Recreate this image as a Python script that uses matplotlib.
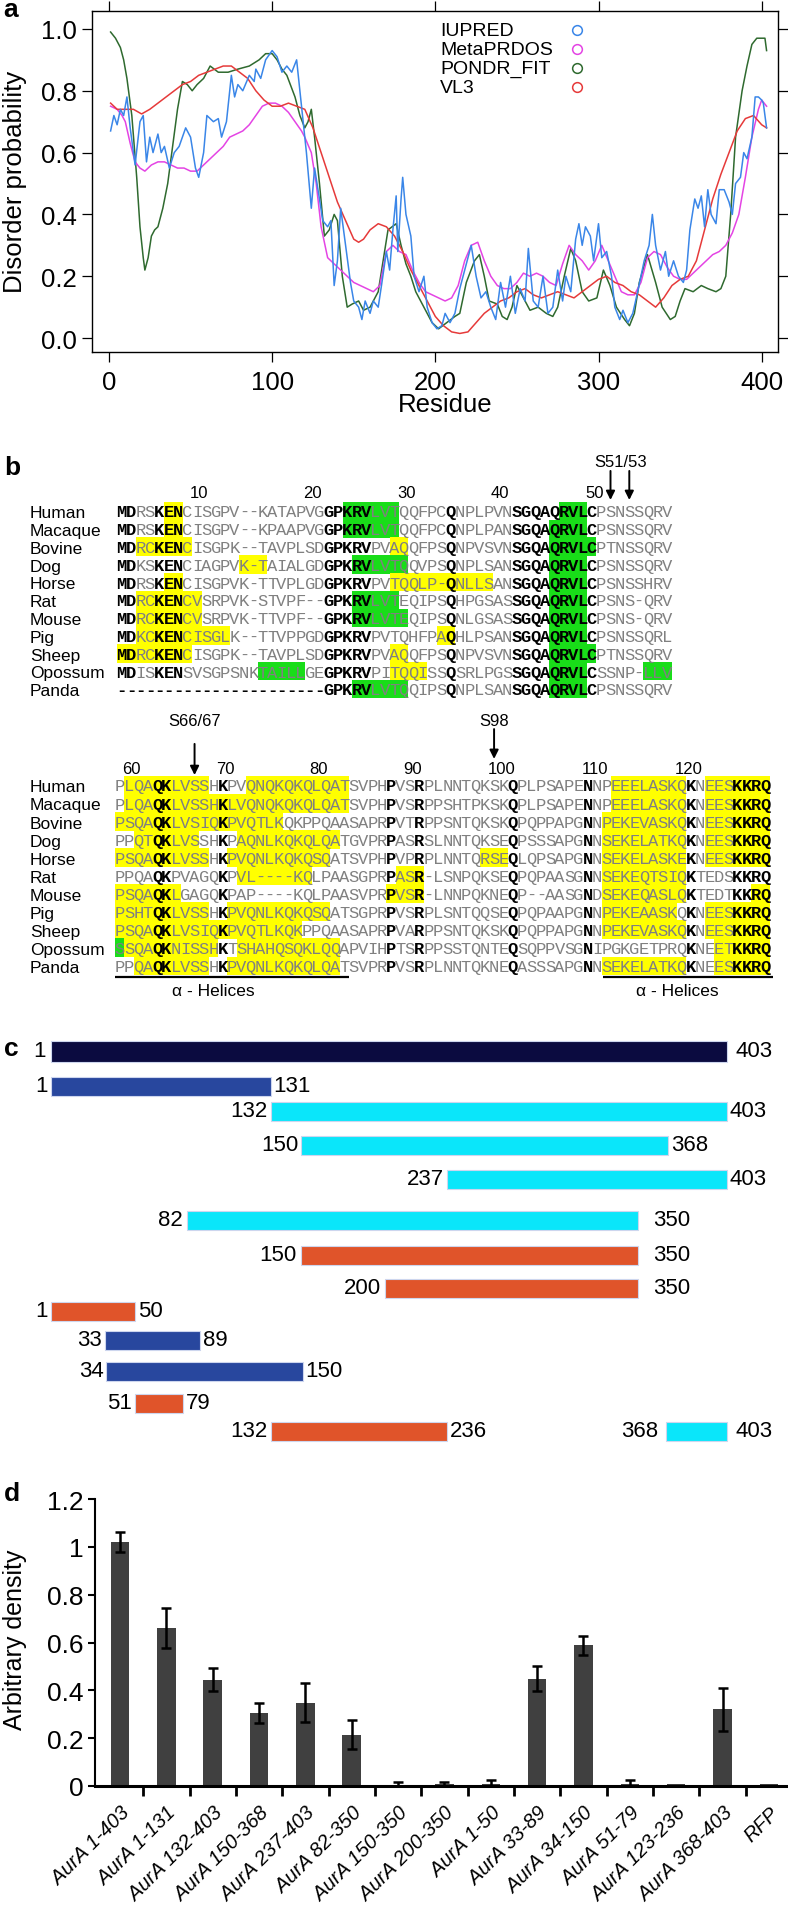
import numpy as np
import matplotlib
matplotlib.use("Agg")
import matplotlib.pyplot as plt
from matplotlib.patches import Rectangle

W, H = 788, 1906
plt.rcParams['font.family'] = ['Liberation Sans', 'DejaVu Sans']

# ── Panel a: disorder predictions ────────────────────────────────────────────
iupred_res = [1, 3, 5, 7, 9, 11, 13, 15, 16, 19, 21, 23, 25, 27, 30, 32, 34, 37, 40, 43,
              47, 50, 53, 55, 58, 60, 64, 67, 69, 72, 75, 77, 79, 82, 86, 89, 90, 93, 96, 100,
              103, 106, 109, 112, 115, 117, 119, 121, 123, 124, 126, 129, 131, 134, 136, 138,
              140, 142, 145, 148, 150, 153, 155, 157, 160, 162, 165, 167, 170, 172, 174, 176,
              177, 179, 180, 182, 185, 187, 190, 193, 195, 198, 201, 204, 206, 209, 212, 215,
              219, 222, 225, 228, 231, 234, 237, 240, 243, 246, 249, 252, 255, 257, 260, 263,
              266, 269, 272, 275, 278, 280, 283, 286, 288, 290, 292, 295, 297, 300, 302, 305,
              308, 310, 313, 315, 318, 321, 324, 328, 331, 333, 335, 338, 341, 343, 346, 349,
              352, 354, 356, 359, 361, 363, 365, 367, 369, 372, 374, 377, 380, 382, 384, 387,
              389, 391, 394, 396, 398, 400, 401, 403]
iupred_val = [0.67, 0.72, 0.69, 0.74, 0.72, 0.78, 0.68, 0.6, 0.56, 0.7, 0.72, 0.57, 0.65, 0.6,
              0.66, 0.6, 0.62, 0.55, 0.6, 0.62, 0.68, 0.65, 0.55, 0.52, 0.6, 0.72, 0.7, 0.71,
              0.65, 0.7, 0.85, 0.78, 0.82, 0.8, 0.85, 0.83, 0.87, 0.84, 0.9, 0.93, 0.91, 0.86,
              0.88, 0.86, 0.9, 0.8, 0.7, 0.6, 0.48, 0.42, 0.55, 0.45, 0.38, 0.36, 0.38, 0.17,
              0.25, 0.42, 0.3, 0.18, 0.12, 0.1, 0.06, 0.12, 0.08, 0.12, 0.1, 0.17, 0.28, 0.22,
              0.35, 0.46, 0.28, 0.45, 0.52, 0.4, 0.33, 0.2, 0.15, 0.2, 0.1, 0.05, 0.03, 0.04,
              0.08, 0.05, 0.08, 0.16, 0.24, 0.3, 0.2, 0.13, 0.15, 0.1, 0.06, 0.18, 0.1, 0.2,
              0.08, 0.16, 0.12, 0.29, 0.12, 0.1, 0.2, 0.08, 0.1, 0.22, 0.12, 0.2, 0.15, 0.32,
              0.37, 0.3, 0.36, 0.33, 0.25, 0.37, 0.26, 0.28, 0.2, 0.1, 0.06, 0.09, 0.05, 0.08,
              0.15, 0.25, 0.3, 0.4, 0.3, 0.22, 0.28, 0.2, 0.25, 0.2, 0.18, 0.22, 0.35, 0.45,
              0.42, 0.46, 0.36, 0.48, 0.4, 0.37, 0.48, 0.48, 0.44, 0.4, 0.5, 0.52, 0.6, 0.58,
              0.65, 0.78, 0.78, 0.77, 0.76, 0.68]

meta_res = [1, 5, 8, 10, 13, 16, 19, 22, 26, 30, 34, 38, 42, 46, 50, 54, 58, 62, 66, 70,
            74, 78, 82, 86, 90, 94, 98, 102, 106, 110, 114, 118, 120, 124, 127, 130, 134, 138,
            142, 146, 150, 154, 158, 162, 166, 170, 174, 178, 182, 186, 190, 194, 198, 202,
            206, 210, 214, 218, 222, 226, 230, 234, 238, 242, 246, 250, 254, 258, 262, 266,
            270, 274, 278, 282, 286, 290, 294, 298, 302, 306, 310, 314, 318, 322, 326, 330,
            334, 338, 342, 346, 350, 354, 358, 362, 366, 370, 374, 378, 382, 386, 390, 394,
            398, 400, 403]
meta_val = [0.75, 0.74, 0.72, 0.7, 0.63, 0.57, 0.55, 0.54, 0.56, 0.57, 0.57, 0.56, 0.55, 0.55,
            0.54, 0.54, 0.56, 0.58, 0.6, 0.62, 0.65, 0.66, 0.67, 0.69, 0.72, 0.75, 0.76, 0.76,
            0.75, 0.73, 0.7, 0.67, 0.65, 0.6, 0.5, 0.36, 0.26, 0.24, 0.22, 0.2, 0.18, 0.17,
            0.16, 0.15, 0.17, 0.28, 0.3, 0.28, 0.27, 0.22, 0.18, 0.15, 0.14, 0.13, 0.12, 0.13,
            0.17, 0.25, 0.3, 0.31, 0.25, 0.2, 0.17, 0.16, 0.16, 0.18, 0.21, 0.2, 0.21, 0.2,
            0.18, 0.17, 0.24, 0.3, 0.27, 0.25, 0.22, 0.25, 0.3, 0.25, 0.2, 0.15, 0.14, 0.14,
            0.18, 0.26, 0.28, 0.27, 0.23, 0.2, 0.19, 0.19, 0.21, 0.23, 0.25, 0.27, 0.28, 0.3,
            0.34, 0.4, 0.52, 0.65, 0.74, 0.77, 0.75]

pondr_res = [1, 4, 7, 9, 11, 12, 14, 17, 19, 21, 22, 24, 26, 28, 30, 33, 36, 39, 42, 45,
             48, 51, 54, 58, 62, 67, 73, 79, 86, 92, 96, 100, 103, 106, 109, 114, 117, 120,
             122, 124, 126, 129, 132, 135, 138, 140, 143, 146, 149, 153, 156, 160, 165, 168,
             171, 176, 179, 182, 185, 188, 193, 198, 202, 207, 212, 215, 219, 224, 227, 230,
             233, 238, 241, 244, 247, 250, 254, 258, 263, 268, 272, 275, 279, 283, 286, 290,
             294, 299, 303, 307, 311, 316, 319, 322, 325, 330, 335, 339, 344, 347, 350, 353,
             358, 363, 367, 372, 375, 378, 381, 384, 388, 391, 394, 397, 400, 402, 403]
pondr_val = [0.99, 0.97, 0.94, 0.9, 0.84, 0.80, 0.72, 0.52, 0.36, 0.26, 0.22, 0.26, 0.33,
             0.35, 0.36, 0.42, 0.5, 0.62, 0.74, 0.83, 0.82, 0.80, 0.82, 0.84, 0.88, 0.86, 0.86,
             0.87, 0.88, 0.9, 0.92, 0.92, 0.9, 0.87, 0.85, 0.78, 0.72, 0.68, 0.7, 0.74, 0.65,
             0.5, 0.33, 0.35, 0.4, 0.38, 0.2, 0.1, 0.11, 0.12, 0.09, 0.1, 0.15, 0.25, 0.35,
             0.37, 0.3, 0.24, 0.2, 0.15, 0.1, 0.05, 0.03, 0.05, 0.07, 0.08, 0.18, 0.25, 0.27,
             0.2, 0.12, 0.11, 0.07, 0.06, 0.1, 0.17, 0.13, 0.09, 0.1, 0.08, 0.07, 0.1, 0.2,
             0.29, 0.25, 0.15, 0.12, 0.13, 0.22, 0.17, 0.1, 0.06, 0.04, 0.08, 0.18, 0.27, 0.18,
             0.1, 0.06, 0.07, 0.12, 0.16, 0.15, 0.17, 0.16, 0.15, 0.16, 0.2, 0.4, 0.65, 0.8,
             0.88, 0.95, 0.97, 0.97, 0.97, 0.93]

vl3_res = [1, 5, 10, 15, 20, 25, 30, 35, 40, 45, 50, 55, 60, 65, 70, 75, 80, 85, 90, 95,
           100, 105, 110, 115, 120, 125, 130, 135, 140, 145, 150, 153, 156, 160, 165, 170,
           175, 180, 185, 190, 195, 200, 205, 210, 215, 220, 225, 230, 235, 240, 245, 250,
           255, 260, 265, 270, 275, 280, 285, 290, 295, 300, 305, 310, 315, 320, 325, 330,
           335, 340, 345, 350, 355, 360, 365, 370, 375, 380, 385, 390, 395, 400, 403]
vl3_val = [0.76, 0.74, 0.74, 0.74, 0.725, 0.74, 0.76, 0.78, 0.8, 0.82, 0.83, 0.85, 0.86, 0.87,
           0.88, 0.88, 0.86, 0.84, 0.8, 0.77, 0.75, 0.75, 0.76, 0.75, 0.74, 0.68, 0.6, 0.52,
           0.44, 0.38, 0.32, 0.31, 0.32, 0.35, 0.37, 0.36, 0.33, 0.28, 0.22, 0.17, 0.12, 0.07,
           0.04, 0.02, 0.015, 0.02, 0.05, 0.08, 0.1, 0.12, 0.13, 0.15, 0.16, 0.14, 0.13, 0.14,
           0.15, 0.14, 0.13, 0.15, 0.17, 0.19, 0.2, 0.18, 0.17, 0.15, 0.14, 0.12, 0.1, 0.13,
           0.17, 0.19, 0.2, 0.25, 0.35, 0.45, 0.53, 0.6, 0.67, 0.71, 0.72, 0.69, 0.68]

predictor_names = ["IUPRED", "MetaPRDOS", "PONDR_FIT", "VL3"]
predictor_colors = ["#3a86e8", "#e444e4", "#2f6a2f", "#e63a3a"]

# ── Panel b: alignment ───────────────────────────────────────────────────────
species = ["Human", "Macaque", "Bovine", "Dog", "Horse", "Rat", "Mouse", "Pig",
           "Sheep", "Opossum", "Panda"]

block1_seqs = [
    "MDRSKENCISGPV--KATAPVGGPKRVLVTQQFPCQNPLPVNSGQAQRVLCPSNSSQRV",
    "MDRSKENCISGPV--KPAAPVGGPKRVLVTQQFPCQNPLPANSGQAQRVLCPSNSSQRV",
    "MDRCKENCISGPK--TAVPLSDGPKRVPVAQQFPSQNPVSVNSGQAQRVLCPTNSSQRV",
    "MDKSKENCIAGPVK-TAIALGDGPKRVLVTQQVPSQNPLSANSGQAQRVLCPSNSSQRV",
    "MDRSKENCISGPVK-TTVPLGDGPKRVPVTQQLP-QNLLSANSGQAQRVLCPSNSSHRV",
    "MDRCKENCVSRPVK-STVPF--GPKRVLVTEQIPSQHPGSASSGQAQRVLCPSNS-QRV",
    "MDRCKENCVSRPVK-TTVPF--GPKRVLVTEQIPSQNLGSASSGQAQRVLCPSNS-QRV",
    "MDKCKENCISGLK--TTVPPGDGPKRVPVTQHFPAQHLPSANSGQAQRVLCPSNSSQRL",
    "MDRCKENCISGPK--TAVPLSDGPKRVPVAQQFPSQNPVSVNSGQAQRVLCPTNSSQRV",
    "MDISKENSVSGPSNKTAILLGEGPKRVPITQQISSQSRLPGSSGQAQRVLCSSNP-LLV",
    "----------------------GPKRVLVTQQIPSQNPLSANSGQAQRVLCPSNSSQRV",
]
# highlighted column runs (start, end, colour) per species
block1_runs = [
    [(6, 7, "y"), (25, 30, "g"), (48, 50, "g")],
    [(6, 7, "y"), (25, 30, "g"), (47, 50, "g")],
    [(3, 8, "y"), (30, 31, "y"), (47, 51, "g")],
    [(14, 16, "y"), (26, 31, "g"), (47, 50, "g")],
    [(6, 7, "y"), (30, 40, "y"), (47, 50, "g")],
    [(3, 9, "y"), (26, 30, "g"), (47, 50, "g")],
    [(3, 9, "y"), (26, 31, "g"), (47, 50, "g")],
    [(3, 12, "y"), (35, 36, "y"), (47, 50, "g")],
    [(1, 8, "y"), (30, 31, "y"), (47, 51, "g")],
    [(16, 20, "g"), (30, 33, "y"), (47, 50, "g"), (57, 59, "g")],
    [(26, 31, "g"), (47, 50, "g")],
]
block1_bold = [1, 2, 5, 6, 7, 23, 24, 25, 26, 27, 36, 43, 44, 45, 46, 47, 48, 49, 50, 51]
block1_numbers = [10, 20, 30, 40, 50]

block2_seqs = [
    "PLQAQKLVSSHKPVQNQKQKQLQATSVPHPVSRPLNNTQKSKQPLPSAPENNPEEELASKQKNEESKKRQ",
    "PLQAQKLVSSHKLVQNQKQKQLQATSVPHPVSRPPSHTPKSKQPLPSAPENNPEEELASKQKNEESKKRQ",
    "PSQAQKLVSIQKPVQTLKQKPPQAASAPRPVTRPPSNTQKSKQPQPPAPGNNPEKEVASKQKNEESKKRQ",
    "PPQTQKLVSSHKPAQNLKQKQLQATGVPRPASRSLNNTQKSEQPSSSAPGNNSEKELATKQKNEESKKRQ",
    "PSQAQKLVSSHKPVQNLKQKQSQATSVPHPVPRPLNNTQRSEQLQPSAPGNNSEKELASKEKNEESKKRQ",
    "PPQAQKPVAGQKPVL----KQLPAASGPRPASR-LSNPQKSEQPQPAASGNNSEKEQTSIQKTEDSKKRQ",
    "PSQAQKLGAGQKPAP----KQLPAASVPRPVSR-LNNPQKNEQP--AASGNDSEKEQASLQKTEDTKKRQ",
    "PSHTQKLVSSHKPVQNLKQKQSQATSGPRPVSRPLSNTQQSEQPQPAAPGNNPEKEAASKQKNEESKKRQ",
    "PSQAQKLVSIQKPVQTLKQKPPQAASAPRPVARPPSNTQKSKQPQPPAPGNNPEKEVASKQKNEESKKRQ",
    "SSQAQKNISSHKTSHAHQSQKLQQAPVIHPTSRPPSSTQNTEQSQPPVSGNIPGKGETPRQKNEETKKRQ",
    "PPQAQKLVSSHKPVQNLKQKQLQATSVPRPVSRPLNNTQKNEQASSSAPGNNSEKELATKQKNEESKKRQ",
]
block2_runs = [
    [(2, 10, "y"), (15, 25, "y"), (54, 61, "y"), (64, 70, "y")],
    [(2, 25, "y"), (54, 61, "y"), (64, 70, "y")],
    [(1, 18, "y"), (53, 61, "y"), (64, 70, "y")],
    [(3, 9, "y"), (14, 24, "y"), (53, 61, "y"), (64, 70, "y")],
    [(1, 10, "y"), (13, 23, "y"), (40, 42, "y"), (53, 61, "y"), (64, 70, "y")],
    [(14, 21, "y"), (31, 33, "y"), (53, 61, "y")],
    [(1, 7, "y"), (30, 33, "y"), (53, 61, "y"), (69, 70, "y")],
    [(1, 10, "y"), (13, 23, "y"), (53, 60, "y"), (64, 70, "y")],
    [(1, 20, "y"), (53, 61, "y"), (64, 70, "y")],
    [(1, 1, "g"), (2, 11, "y"), (14, 24, "y"), (65, 70, "y")],
    [(3, 10, "y"), (13, 24, "y"), (53, 61, "y"), (65, 70, "y")],
]
block2_bold = [5, 6, 12, 30, 33, 43, 51, 62, 67, 68, 69, 70]
block2_numbers = [60, 70, 80, 90, 100, 110, 120]

# ── Panel c: constructs ──────────────────────────────────────────────────────
c_start = [1, 1, 132, 150, 237, 82, 150, 200, 1, 33, 34, 51, 132, 368]
c_end = [403, 131, 403, 368, 403, 350, 350, 350, 50, 89, 150, 79, 236, 403]
c_group = ["full", "blue", "cyan", "cyan", "cyan", "cyan", "orange", "orange",
           "orange", "blue", "blue", "orange", "orange", "cyan"]

# ── Panel d: densitometry ────────────────────────────────────────────────────
d_labels = ["AurA 1-403", "AurA 1-131", "AurA 132-403", "AurA 150-368", "AurA 237-403",
            "AurA 82-350", "AurA 150-350", "AurA 200-350", "AurA 1-50", "AurA 33-89",
            "AurA 34-150", "AurA 51-79", "AurA 123-236", "AurA 368-403", "RFP"]
d_vals = [1.02, 0.66, 0.445, 0.305, 0.348, 0.215, 0.006, 0.008, 0.01, 0.448, 0.588,
          0.01, 0.008, 0.32, 0.01]
d_err = [0.04, 0.085, 0.048, 0.042, 0.082, 0.06, 0.012, 0.01, 0.013, 0.052, 0.04,
         0.013, 0.0, 0.088, 0.0]

HL = {"y": "#ffff00", "g": "#19dd19"}
GRAY = "#808080"
C_COLORS = {"full": "#0b0b40", "blue": "#28479e", "cyan": "#0ae6fa", "orange": "#e0542a"}

fig = plt.figure(figsize=(W / 100, H / 100), dpi=100)


def px_axes(x0, y0, x1, y1):
    return fig.add_axes([x0 / W, 1 - y1 / H, (x1 - x0) / W, (y1 - y0) / H])


def fig_text(x, y, s, **kw):
    fig.text(x / W, 1 - y / H, s, **kw)


# ── a ───────────────────────────────────────────────────────────────────────
ax = px_axes(92, 12, 778, 353)
series = [(pondr_res, pondr_val, predictor_colors[2]),
          (meta_res, meta_val, predictor_colors[1]),
          (vl3_res, vl3_val, predictor_colors[3]),
          (iupred_res, iupred_val, predictor_colors[0])]
for rx, ry, col in series:
    ax.plot(rx, ry, color=col, lw=1.1)
ax.set_xlim(-10.4, 410)
ax.set_ylim(-0.045, 1.058)
ax.set_xticks([0, 100, 200, 300, 400])
yt = [0.0, 0.2, 0.4, 0.6, 0.8, 1.0]
ax.set_yticks(yt)
ax.set_yticklabels([f"{v:.1f}" for v in yt])
ax.tick_params(direction="out", length=7, width=0.9, top=True, right=True,
               labelsize=18.5)
ax.tick_params(axis="x", pad=6)
ax.tick_params(axis="y", pad=4)
for sp in ax.spines.values():
    sp.set_linewidth(1.0)
for i, (name, col) in enumerate(zip(predictor_names, predictor_colors)):
    yy = 0.995 - i * 0.061
    ax.text(203, yy, name, fontsize=14, ha="left", va="center")
    ax.plot(287, yy, "o", mfc="none", mec=col, ms=7, mew=1.1)
fig_text(15, 182, "Disorder probability", rotation=90, fontsize=18.5,
         ha="center", va="center")
fig_text(445, 405, "Residue", fontsize=18.5, ha="center", va="center")
fig_text(3, 10, "a", fontsize=19, weight="bold", ha="left", va="center")


# ── b ───────────────────────────────────────────────────────────────────────
def draw_block(top, bottom, x0, pitch, y0, rowh, seqs, runs, bold):
    bx = px_axes(0, top, W, bottom)
    bx.set_xlim(-x0 / pitch + 0.5, (W - x0) / pitch + 0.5)
    bx.set_ylim((bottom - y0) / rowh, (top - y0) / rowh)
    bx.axis("off")
    name_x = (30 - x0) / pitch + 0.5
    for r, sp in enumerate(species):
        bx.text(name_x, r + 0.35, sp, fontsize=12.5, ha="left", va="baseline")
        for s, e, c in runs[r]:
            bx.add_patch(Rectangle((s - 0.5, r - 0.52), e - s + 1, 1.04,
                                   fc=HL[c], lw=0, zorder=1))
        seq = seqs[r]
        lead = len(seq) - len(seq.lstrip("-"))
        for c, ch in enumerate(seq, start=1):
            b = c in bold or c <= lead
            bx.text(c, r + 0.3, ch, family=["Liberation Mono", "DejaVu Sans Mono"],
                    fontsize=12.3, weight="bold" if b else "normal",
                    color="k" if b else GRAY, ha="center", va="baseline", zorder=2)
    return bx


def human_col(seq, n, offset=0):
    k = offset
    for c, ch in enumerate(seq, start=1):
        if ch != "-":
            k += 1
            if k == n:
                return c
    return None


b1 = draw_block(450, 700, 117, 9.4, 512, 17.8, block1_seqs, block1_runs, block1_bold)
for n in block1_numbers:
    c = human_col(block1_seqs[0], n)
    b1.text(c + 0.25, -0.76, str(n), fontsize=12, ha="right", va="baseline")
b1.text(54.1, -2.53, "S51/53", fontsize=12, ha="center", va="baseline")
for n in (51, 53):
    c = human_col(block1_seqs[0], n)
    b1.annotate("", xy=(c, -0.62), xytext=(c, -2.25),
                arrowprops=dict(arrowstyle="-|>", color="k", lw=1.4,
                                mutation_scale=13, shrinkA=0, shrinkB=0))
fig_text(4, 468, "b", fontsize=19, weight="bold", ha="left", va="center")

n_prev = sum(ch != "-" for ch in block1_seqs[0])
b2 = draw_block(700, 1005, 115, 9.36, 786, 18.1, block2_seqs, block2_runs, block2_bold)
for n in block2_numbers:
    c = human_col(block2_seqs[0], n, n_prev)
    b2.text(c + 0.25, -0.69, str(n), fontsize=12, ha="right", va="baseline")
for n, lab, tail, tip in [(66, "S66/67", -2.27, -0.55), (98, "S98", -3.09, -1.44)]:
    c = human_col(block2_seqs[0], n, n_prev)
    b2.text(c, -3.34, lab, fontsize=12, ha="center", va="baseline")
    b2.annotate("", xy=(c, tip), xytext=(c, tail),
                arrowprops=dict(arrowstyle="-|>", color="k", lw=1.4,
                                mutation_scale=13, shrinkA=0, shrinkB=0))
for xa, xb, xt in [(0.5, 25.5, 11.0), (52.6, 70.8, 60.6)]:
    b2.plot([xa, xb], [10.6, 10.6], color="k", lw=1.6, solid_capstyle="butt")
    b2.text(xt, 11.33, "α - Helices", fontsize=12.5, ha="center", va="center")

# ── c ───────────────────────────────────────────────────────────────────────
c_y = [1052, 1087, 1112, 1146, 1180, 1221, 1256, 1289, 1312, 1341, 1372, 1404, 1432, 1432]
c_h = [21] + [19] * 13
start_gap = [4, 2, 2, 2, 2, 3, 3, 3, 2, 2, 2, 2, 2, 6]
end_gap = [6, 2, 2, 2, 2, 11, 11, 11, 2, 2, 2, 2, 2, 6]
k = 1.677
axc = px_axes(0, 1035, W, 1450)
axc.set_xlim(-51 / k, (W - 51) / k)
axc.set_ylim(1450, 1035)
axc.axis("off")
for i in range(len(c_start)):
    s, e = c_start[i], c_end[i]
    axc.barh(c_y[i], e - s + 1, left=s - 1, height=c_h[i],
             color=C_COLORS[c_group[i]], edgecolor="#cdd6ee", lw=0.8)
    axc.annotate(str(s), (s - 1, c_y[i]), xytext=(-start_gap[i], 0),
                 textcoords="offset points", ha="right", va="center", fontsize=16)
    axc.annotate(str(e), (e, c_y[i]), xytext=(end_gap[i], 0),
                 textcoords="offset points", ha="left", va="center", fontsize=16)
fig_text(4, 1049, "c", fontsize=19, weight="bold", ha="left", va="center")

# ── d ───────────────────────────────────────────────────────────────────────
axd = px_axes(95, 1500, 786, 1787)
x = np.arange(len(d_vals))
axd.bar(x, d_vals, width=0.4, color="#404040", zorder=2)
for i in range(len(d_vals)):
    if d_err[i] > 0:
        axd.errorbar(x[i], d_vals[i], yerr=d_err[i], fmt="none", ecolor="k",
                     elinewidth=1.8, capsize=3.5, capthick=1.8, zorder=3)
axd.set_xlim(-0.54, 14.37)
axd.set_ylim(0, 1.2)
axd.spines[["top", "right"]].set_visible(False)
axd.spines["left"].set_linewidth(1.5)
axd.spines["bottom"].set_linewidth(2.2)
dy = [0, 0.2, 0.4, 0.6, 0.8, 1.0, 1.2]
axd.set_yticks(dy)
axd.set_yticklabels(["0", "0.2", "0.4", "0.6", "0.8", "1", "1.2"])
axd.tick_params(axis="y", direction="out", length=5, width=1.5, labelsize=19, pad=3)
axd.set_xticks(x)
axd.set_xticklabels(d_labels, rotation=45, ha="right", rotation_mode="anchor",
                    fontsize=14.5, style="italic")
axd.tick_params(axis="x", which="major", length=0, pad=12)
axd.set_xticks(x[:-1] + 0.5, minor=True)
axd.tick_params(axis="x", which="minor", direction="out", length=7, width=2)
fig_text(15, 1640, "Arbitrary density", rotation=90, fontsize=18,
         ha="center", va="center")
fig_text(4, 1494, "d", fontsize=19, weight="bold", ha="left", va="center")

fig.savefig("out.png", dpi=100)
